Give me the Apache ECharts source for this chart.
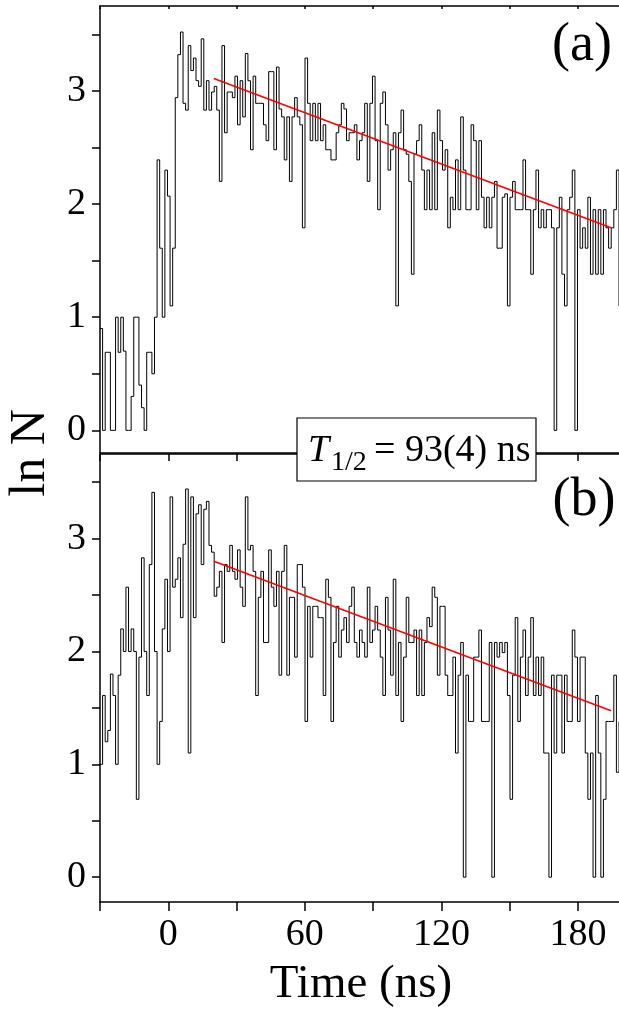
<!DOCTYPE html>
<html>
<head>
<meta charset="utf-8">
<title>ln N vs Time</title>
<script src="https://cdn.jsdelivr.net/npm/echarts@6.0.0/dist/echarts.min.js"></script>
<style>
  html, body { margin: 0; padding: 0; background: #fff; }
  #chart { width: 619px; height: 1015px; }
</style>
</head>
<body>
<div id="chart"></div>
<script>
// histogram bins (ns)
const binStart = -30;
const binWidth = 1.14;

// panel (a), ln N per bin
const lnA = [
  0.90, 0, 0.69, 0.69, 0, 0, 1.0, 0.69, 1.0, 0.70, 0, 0, 0.3, 1.0, 1.0, 0.4, 0.2, 0, 0.69, 0.69, 0.5, 1.0,
  2.39, 1.61, 1.0, 2.30, 2.07, 1.10, 1.61, 2.94, 3.32, 3.52,
  2.89, 2.83, 3.40, 3.18, 3.29, 3.09, 3.04, 3.46, 2.83, 3.09,
  2.83, 2.99, 3.04, 2.83, 2.20, 3.40, 2.63, 2.99, 2.99, 2.94,
  3.13, 2.70, 3.09, 2.77, 3.33, 3.09, 2.48, 3.13, 2.89, 2.89,
  2.89, 2.70, 2.56,
  3.17, 3.17, 2.48, 3.21, 2.84, 2.77, 2.39, 2.77, 2.20, 2.77,
  2.94, 2.77, 2.70, 1.79, 3.29, 2.89, 2.56, 2.89, 2.56, 2.89,
  2.56, 2.70, 2.48, 2.48, 2.39, 2.39, 2.63, 2.70, 2.89, 2.84,
  2.56, 2.63, 2.63, 2.70, 2.39, 2.56, 2.63, 2.89, 2.20, 2.89,
  3.13, 2.56, 1.95, 2.89, 2.99, 2.70, 2.30, 2.48, 2.63, 1.10,
  2.63, 2.83, 2.48, 2.44, 2.20, 1.38, 2.44, 2.56, 2.70, 2.30, 1.95,
  2.30, 1.95, 2.63, 1.95, 2.83, 2.56, 2.30, 2.48, 1.79, 2.06,
  1.95, 2.39, 1.95, 2.77, 2.30, 1.95, 1.95, 2.70, 2.56, 1.95,
  2.56, 2.06, 1.79, 2.06, 1.79, 2.06, 2.20, 1.61, 1.61, 2.06,
  2.09, 1.10, 2.06, 2.20, 1.95, 1.95, 1.95, 2.39, 1.95, 1.95,
  1.38, 1.95, 2.30, 1.79, 1.95, 1.79, 1.95, 1.95, 1.79, 0,
  1.79, 2.06, 1.38, 1.10, 1.95, 2.06, 2.30, 0,
  1.95, 1.61, 1.79, 1.61, 2.06, 1.38, 1.95, 1.38, 1.95, 1.38,
  1.95, 1.79, 1.61, 1.79, 1.95, 2.30, 1.10
];

// panel (b), ln N per bin
const lnB = [
  1.0, 1.61, 1.20, 1.30, 1.80, 1.61, 1.0, 1.79, 2.20, 2.0,
  2.57, 2.0, 2.20, 2.0, 0.69, 1.95, 2.83, 2.0, 1.61, 2.77,
  3.41, 2.0, 1.0, 1.38, 2.20, 2.64, 2.0, 3.37, 2.57, 2.64,
  2.83, 2.30, 2.95, 3.44, 1.10, 3.37, 2.30, 3.22, 3.30, 2.77,
  3.26, 3.33, 2.94, 2.88, 2.49, 2.57, 2.71, 2.08, 2.77, 2.71,
  2.94, 2.71, 2.64, 2.90, 2.57, 2.40, 3.37, 2.90, 2.94, 2.71,
  1.61,
  2.48, 2.71, 2.08, 2.08, 2.90, 2.57, 2.40, 2.71, 1.79, 2.71,
  2.94, 1.79, 2.48, 2.48, 1.95, 2.77, 2.77, 2.57, 1.38, 2.40,
  1.95, 2.40, 2.40, 2.30, 2.30, 1.61, 2.64, 2.48, 1.38, 2.08,
  2.40, 1.95, 2.19, 2.30, 2.08, 2.40, 2.57, 2.08, 1.95, 2.19,
  2.08, 1.95, 2.57, 2.08, 2.19, 2.40, 2.19, 1.95, 1.61, 2.48,
  2.19, 1.79, 2.64, 1.61, 2.08, 1.38, 1.95, 2.48, 2.08, 2.08,
  2.19, 1.61, 2.19, 1.61, 2.08, 2.30,
  2.22, 2.57, 2.48, 1.79, 2.40, 2.40, 1.79, 1.61, 1.61, 1.95,
  1.10, 1.79, 2.08, 0, 1.79, 1.38, 1.38, 1.95, 1.95, 2.19,
  1.38, 1.38, 1.38, 2.08, 0, 2.08, 1.95, 2.08, 1.99, 2.08,
  1.61, 0.69, 1.79, 2.30, 1.38, 1.95, 2.19, 1.61, 1.95, 2.30,
  1.61, 1.95, 1.61, 1.95, 1.10, 1.10, 0, 1.79, 1.10, 1.79,
  1.79, 1.10, 1.79, 1.38, 1.38, 2.19, 1.95, 1.38, 1.95, 1.95,
  1.10, 0.69, 1.10, 0, 1.61, 1.10, 0, 0.69, 1.38, 1.38,
  1.38, 1.79, 0.93, 1.38
];

// exponential decay fits, [time, ln N] end points
const fitA = [[20, 3.11], [194.5, 1.79]];
const fitB = [[20, 2.80], [194.5, 1.475]];

const xTicks = [-30, 0, 30, 60, 90, 120, 150, 180];
const xLabels = [0, 60, 120, 180];
const yTicks = [0, 0.5, 1, 1.5, 2, 2.5, 3, 3.5];
const yLabels = [0, 1, 2, 3];

const serif = "'Liberation Serif', 'Times New Roman', serif";

function toSteps(values) {
  const pts = values.map((v, i) => [binStart + i * binWidth, v]);
  pts.push([binStart + values.length * binWidth, values[values.length - 1]]);
  return pts;
}

function xAxis(grid, pos, tickLen, inside, labels) {
  return {
    type: 'value', gridIndex: grid, position: pos, min: -30, max: 198,
    axisLine: { show: true, onZero: false, lineStyle: { color: '#000', width: 1.5 } },
    axisTick: {
      show: tickLen > 0, inside: inside, length: tickLen, customValues: xTicks,
      lineStyle: { color: '#000', width: 1.5 }
    },
    axisLabel: {
      show: labels, customValues: xLabels, color: '#000',
      fontFamily: serif, fontSize: 38, margin: 14
    },
    splitLine: { show: false }
  };
}

function yAxis(grid, min) {
  return {
    type: 'value', gridIndex: grid, min: min, max: 3.75,
    axisLine: { show: true, onZero: false, lineStyle: { color: '#000', width: 1.5 } },
    axisTick: { show: true, length: 8, customValues: yTicks, lineStyle: { color: '#000', width: 1.5 } },
    axisLabel: { customValues: yLabels, color: '#000', fontFamily: serif, fontSize: 38, margin: 14 },
    splitLine: { show: false }
  };
}

const chart = echarts.init(document.getElementById('chart'));

const option = {
  animation: false,
  backgroundColor: '#fff',
  grid: [
    { left: 100, top: 6, right: 0, height: 447 },
    { left: 100, top: 454, right: 0, height: 448 }
  ],
  xAxis: [
    xAxis(0, 'bottom', 0, true, false),
    xAxis(0, 'top', 3, true, false),
    xAxis(1, 'top', 7, true, false),
    xAxis(1, 'bottom', 9, false, true)
  ],
  yAxis: [yAxis(0, -0.2), yAxis(1, -0.22)],
  series: [
    {
      type: 'line', xAxisIndex: 0, yAxisIndex: 0, step: 'end', showSymbol: false,
      data: toSteps(lnA), lineStyle: { color: '#000', width: 1 }, z: 2
    },
    {
      type: 'line', xAxisIndex: 3, yAxisIndex: 1, step: 'end', showSymbol: false,
      data: toSteps(lnB), lineStyle: { color: '#000', width: 1 }, z: 2
    },
    {
      type: 'line', xAxisIndex: 0, yAxisIndex: 0, showSymbol: false,
      data: fitA, lineStyle: { color: '#ff0000', width: 1.5 }, z: 3
    },
    {
      type: 'line', xAxisIndex: 3, yAxisIndex: 1, showSymbol: false,
      data: fitB, lineStyle: { color: '#ff0000', width: 1.5 }, z: 3
    }
  ],
  graphic: [
    {
      type: 'text', x: 31, y: 453, rotation: Math.PI / 2, z: 100,
      style: { text: 'ln N', font: '50px ' + serif, fill: '#000', align: 'center', verticalAlign: 'middle' }
    },
    {
      type: 'text', x: 361, y: 985, z: 100,
      style: { text: 'Time (ns)', font: '47px ' + serif, fill: '#000', align: 'center', verticalAlign: 'middle' }
    },
    {
      type: 'text', x: 582, y: 46, z: 100,
      style: { text: '(a)', font: '54px ' + serif, fill: '#000', align: 'center', verticalAlign: 'middle' }
    },
    {
      type: 'text', x: 584, y: 501, z: 100,
      style: { text: '(b)', font: '54px ' + serif, fill: '#000', align: 'center', verticalAlign: 'middle' }
    },
    {
      type: 'rect', z: 100,
      shape: { x: 297, y: 418, width: 239, height: 63 },
      style: { fill: '#fff', stroke: '#000', lineWidth: 1.2 }
    },
    {
      type: 'text', x: 308, y: 451, z: 101,
      style: { text: 'T', font: 'italic 38px ' + serif, fill: '#000', align: 'left', verticalAlign: 'middle' }
    },
    {
      type: 'text', x: 331, y: 463, z: 101,
      style: { text: '1/2', font: '28px ' + serif, fill: '#000', align: 'left', verticalAlign: 'middle' }
    },
    {
      type: 'text', x: 374, y: 451, z: 101,
      style: { text: '= 93(4) ns', font: '38px ' + serif, fill: '#000', align: 'left', verticalAlign: 'middle' }
    }
  ]
};

chart.setOption(option);
</script>
</body>
</html>
